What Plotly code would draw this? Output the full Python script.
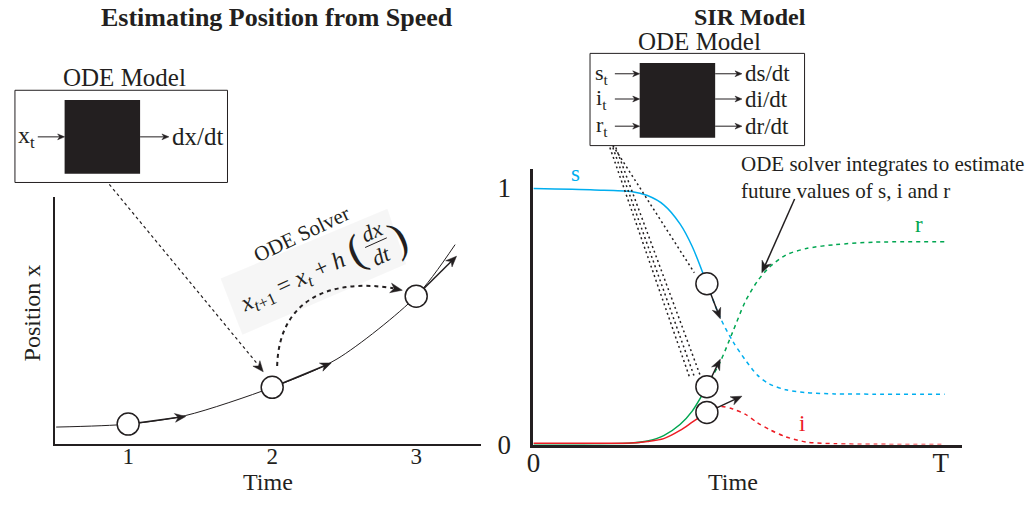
import math
import plotly.graph_objects as go

W, H = 1032, 511
FONT = "Liberation Serif, Times New Roman, serif"
INK = "#231f20"
BLUE = "#00aeef"
GREEN = "#00a651"
RED = "#ed1c24"

# ---- left panel: position estimated from speed ----
pos_time = [0.5, 1.0, 1.4, 2.0, 2.45, 3.0, 3.27]
position = [0.067, 0.079, 0.114, 0.228, 0.343, 0.598, 0.807]
step_time = [1, 2, 3]
step_pos = [0.079, 0.228, 0.598]
tip_time = [1.40, 2.41, 3.28]          # heads of the speed (tangent) arrows
tip_pos = [0.110, 0.327, 0.760]
left_tickvals = [1, 2, 3]
left_ticktext = ["1", "2", "3"]

# ---- right panel: SIR model ----
sir_time = [0, 15, 24, 28, 32, 36, 39, 42.6, 46, 49, 52, 55, 58, 62, 67, 74, 84, 101]
s_frac = [0.995, 0.99, 0.984, 0.968, 0.932, 0.858, 0.77, 0.625, 0.489, 0.40, 0.33,
          0.27, 0.235, 0.213, 0.202, 0.197, 0.196, 0.196]
i_frac = [0.005, 0.005, 0.006, 0.012, 0.023, 0.055, 0.087, 0.125, 0.148, 0.138, 0.118,
          0.085, 0.058, 0.03, 0.01, 0.003, 0.001, 0.0]
r_frac = [0.0, 0.002, 0.006, 0.014, 0.035, 0.078, 0.13, 0.225, 0.326, 0.44, 0.555,
          0.635, 0.69, 0.737, 0.762, 0.777, 0.787, 0.788]
t_now = 42.6
s_tip = (45.9, 0.489)
i_tip = (51.2, 0.188)
r_tip = (45.9, 0.332)
right_xtickvals = [0, 100]
right_xticktext = ["0", "T"]
right_ytickvals = [0, 1]
right_yticktext = ["0", "1"]

# ---- panel placement (page pixels) and axis ranges ----
tx = lambda px: 1 + (px - 122) / 145          # left time scale
LEFT = dict(xpx=(48, 477), ypx=(457, 203), xr=(tx(48), tx(477)), yr=(0, 1))
RIGHT = dict(xpx=(530, 962), ypx=(458, 174), xr=(0, 432 / 4.1), yr=(0, 284 / 265))


def to_px(panel, t, v):
    (x0, x1), (y0, y1) = panel["xpx"], panel["ypx"]
    (a0, a1), (b0, b1) = panel["xr"], panel["yr"]
    return x0 + (t - a0) / (a1 - a0) * (x1 - x0), y0 + (v - b0) / (b1 - b0) * (y1 - y0)


def P(x, y):
    """page pixel -> paper fraction"""
    return x / W, 1 - y / H


def pt(x, y):
    a, b = P(x, y)
    return f"{a:.5f},{b:.5f}"


def text(x, y, s, size, color=INK, angle=0, xanchor="center", bold=False, align="center"):
    px, py = P(x, y)
    if bold:
        s = f"<b>{s}</b>"
    return dict(xref="paper", yref="paper", x=px, y=py, text=s, showarrow=False,
                xanchor=xanchor, yanchor="middle", textangle=angle, align=align,
                font=dict(family=FONT, size=size, color=color))


def rect(x0, y0, x1, y1, fill=None, width=1):
    a0, b0 = P(x0, y0)
    a1, b1 = P(x1, y1)
    return dict(type="rect", xref="paper", yref="paper", x0=a0, y0=b0, x1=a1, y1=b1,
                line=dict(color=INK, width=width if fill is None else 0),
                fillcolor=fill if fill else "rgba(0,0,0,0)", layer="above")


def seg(p0, p1, dash="dot", width=1.2, color=INK):
    a0, b0 = P(*p0)
    a1, b1 = P(*p1)
    return dict(type="line", xref="paper", yref="paper", x0=a0, y0=b0, x1=a1, y1=b1,
                line=dict(color=color, width=width, dash=dash), layer="above")


def head(tip, direction, L=11, w=9):
    """filled, notched arrowhead at tip pointing along direction"""
    n = math.hypot(*direction)
    ux, uy = direction[0] / n, direction[1] / n
    bx, by = tip[0] - ux * L, tip[1] - uy * L
    b1 = (bx - uy * w / 2, by + ux * w / 2)
    b2 = (bx + uy * w / 2, by - ux * w / 2)
    notch = (tip[0] - ux * 0.7 * L, tip[1] - uy * 0.7 * L)
    return dict(type="path", xref="paper", yref="paper", layer="above",
                path=f"M {pt(*tip)} L {pt(*b1)} L {pt(*notch)} L {pt(*b2)} Z",
                fillcolor=INK, line=dict(color=INK, width=0.5))


def arrow(tail, tip, width=1.5, L=11, w=9, start_off=0.0):
    d = (tip[0] - tail[0], tip[1] - tail[1])
    n = math.hypot(*d)
    ux, uy = d[0] / n, d[1] / n
    start = (tail[0] + ux * start_off, tail[1] + uy * start_off)
    end = (tip[0] - ux * 0.6 * L, tip[1] - uy * 0.6 * L)
    return [seg(start, end, dash="solid", width=width), head(tip, d, L, w)]


fig = go.Figure()

# left panel curve and solver steps
fig.add_trace(go.Scatter(x=pos_time, y=position, mode="lines", xaxis="x", yaxis="y",
                         line=dict(color=INK, width=1, shape="spline", smoothing=0.8)))
fig.add_trace(go.Scatter(x=step_time, y=step_pos, mode="markers", xaxis="x", yaxis="y",
                         marker=dict(size=22, color="white", line=dict(color=INK, width=1.5))))

# right panel: solved part (solid) and future part (dashed)
k = sir_time.index(t_now)
for vals, col in ((s_frac, BLUE), (r_frac, GREEN), (i_frac, RED)):
    fig.add_trace(go.Scatter(x=sir_time[:k + 1], y=vals[:k + 1], mode="lines", xaxis="x2", yaxis="y2",
                             line=dict(color=col, width=1.5, shape="spline", smoothing=0.8)))
    fig.add_trace(go.Scatter(x=sir_time[k:], y=vals[k:], mode="lines", xaxis="x2", yaxis="y2",
                             line=dict(color=col, width=1.5, dash="4px,4px", shape="spline", smoothing=0.8)))
fig.add_trace(go.Scatter(x=[t_now] * 3, y=[s_frac[k], r_frac[k], i_frac[k]], mode="markers",
                         xaxis="x2", yaxis="y2",
                         marker=dict(size=22, color="white", line=dict(color=INK, width=1.5))))

annotations = []
shapes = []

# speed arrows on the left curve
for t0, x0, t1, x1 in zip(step_time, step_pos, tip_time, tip_pos):
    shapes += arrow(to_px(LEFT, t0, x0), to_px(LEFT, t1, x1), width=1.5, start_off=11)
# derivative arrows on the SIR curves
for (t1, v1), v0 in ((s_tip, s_frac[k]), (r_tip, r_frac[k]), (i_tip, i_frac[k])):
    shapes += arrow(to_px(RIGHT, t_now, v0), to_px(RIGHT, t1, v1), width=1.5, start_off=11)

# titles
annotations.append(text(272, 18, "Estimating Position from Speed", 26, bold=True))
annotations.append(text(748, 17, "SIR Model", 24, bold=True))

# left ODE model box
annotations.append(text(118, 80, "ODE Model", 25))
shapes.append(rect(8, 93, 222, 188))
shapes.append(rect(58, 103, 134, 179, fill=INK))
shapes += arrow((31, 141), (58, 141), width=1, L=7, w=6)
shapes += arrow((134, 141), (163, 141), width=1, L=7, w=6)
annotations.append(text(20, 141, "x<sub>t</sub>", 24))
annotations.append(text(164, 141, "dx/dt", 25, xanchor="left"))

# right ODE model box
annotations.append(text(697, 43, "ODE Model", 25))
shapes.append(rect(587, 55, 803, 150))
shapes.append(rect(637, 65, 713, 142, fill=INK))
for yy, lab, out in ((76, "s", "ds/dt"), (102, "i", "di/dt"), (130, "r", "dr/dt")):
    shapes += arrow((612, yy), (637, yy), width=1, L=7, w=6)
    shapes += arrow((713, yy), (740, yy), width=1, L=7, w=6)
    annotations.append(text(599, yy, f"{lab}<sub>t</sub>", 22))
    annotations.append(text(741, yy, out, 23, xanchor="left"))

# ODE solver note on the left panel
shapes.insert(0, dict(type="path", xref="paper", yref="paper", layer="below",
                      path=f"M {pt(215,287)} L {pt(383,215)} L {pt(402,272)} L {pt(237,345)} Z",
                      fillcolor="rgba(0,0,0,0.035)", line=dict(width=0)))
annotations.append(text(297, 241, "ODE Solver", 21, angle=-25.4))
annotations.append(text(288, 292, "<i>x</i><sub><i>t</i>+1</sub> = <i>x<sub>t</sub></i> + <i>h</i>", 24, angle=-24.6))
annotations.append(text(351, 258, "(", 44, angle=-24.6))
annotations.append(text(367, 238, "<i>dx</i>", 22, angle=-24.6))
annotations.append(text(377, 263, "<i>dt</i>", 22, angle=-24.6))
annotations.append(text(394, 245, ")", 44, angle=-24.6))
shapes.append(seg((360.6, 255.0), (382.4, 245.0), dash="solid", width=1))

# dotted link from the model box to the second step
shapes.append(seg((103, 190), (253, 376), dash="dot", width=1.2))
shapes.append(head((258, 383), (155, 193), L=11, w=9))
# solver jump to the next step
shapes.append(dict(type="path", xref="paper", yref="paper", layer="above",
                   path=f"M {pt(272,377)} C {pt(274,305)} {pt(330,287)} {pt(389,297)}",
                   line=dict(color=INK, width=2, dash="4px,4px")))
shapes.append(head((398, 299), (10, 2), L=12, w=10))

# dotted links from the SIR model to the current state
shapes.append(seg((610, 150), (692, 281), dash="2px,3px", width=1.5))
shapes.append(seg((607, 152), (687, 388), dash="2px,3px", width=1.5))
shapes.append(seg((610, 152), (692, 388), dash="2px,3px", width=1.5))
shapes.append(seg((613, 152), (698, 387), dash="2px,3px", width=1.5))

# note about the solver on the right panel
annotations.append(text(737, 183, "ODE solver integrates to estimate<br>future values of s, i and r",
                        21, xanchor="left", align="left"))
shapes += arrow((793, 205), (760, 281), width=1.5, L=12, w=10)

# series labels
annotations.append(text(572, 179, "s", 23, color=BLUE))
annotations.append(text(918, 231, "r", 23, color=GREEN))
annotations.append(text(800, 436, "i", 23, color=RED))

# axis titles
annotations.append(text(263, 497, "Time", 24))
annotations.append(text(731, 497, "Time", 24))
annotations.append(text(25, 322, "Position x", 24, angle=-90))

fig.update_layout(
    width=W, height=H, margin=dict(l=0, r=0, t=0, b=0),
    paper_bgcolor="white", plot_bgcolor="rgba(0,0,0,0)",
    showlegend=False, hovermode=False,
    font=dict(family=FONT, color=INK),
    xaxis=dict(domain=[LEFT["xpx"][0] / W, LEFT["xpx"][1] / W], range=list(LEFT["xr"]), anchor="y",
               showline=True, linecolor=INK, linewidth=2, showgrid=False, zeroline=False,
               tickvals=left_tickvals, ticktext=left_ticktext, ticks="",
               ticklabelstandoff=-9, tickfont=dict(family=FONT, size=23, color=INK)),
    yaxis=dict(domain=[1 - LEFT["ypx"][0] / H, 1 - LEFT["ypx"][1] / H], range=list(LEFT["yr"]), anchor="x",
               showline=True, linecolor=INK, linewidth=2, showgrid=False, zeroline=False,
               showticklabels=False, ticks=""),
    xaxis2=dict(domain=[RIGHT["xpx"][0] / W, RIGHT["xpx"][1] / W], range=list(RIGHT["xr"]), anchor="y2",
                showline=True, linecolor=INK, linewidth=3, showgrid=False, zeroline=False,
                tickvals=right_xtickvals, ticktext=right_xticktext, ticks="", layer="below traces",
                ticklabelstandoff=-8, tickfont=dict(family=FONT, size=27, color=INK)),
    yaxis2=dict(domain=[1 - RIGHT["ypx"][0] / H, 1 - RIGHT["ypx"][1] / H], range=list(RIGHT["yr"]), anchor="x2",
                showline=True, linecolor=INK, linewidth=3, showgrid=False, zeroline=False,
                tickvals=right_ytickvals, ticktext=right_yticktext, ticks="", layer="below traces",
                ticklabelstandoff=14, tickfont=dict(family=FONT, size=27, color=INK)),
    annotations=annotations,
    shapes=shapes,
)

fig.write_html("out.html")
